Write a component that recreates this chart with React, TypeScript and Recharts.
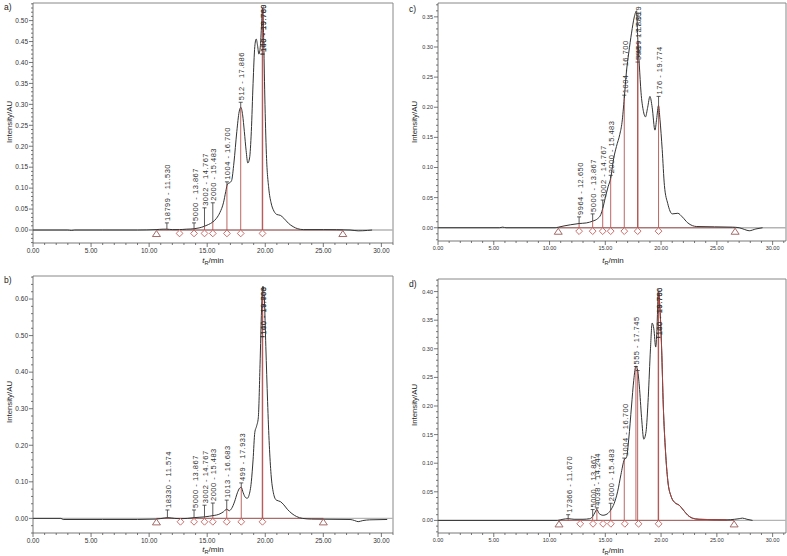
import React from 'react';
import {
  ComposedChart,
  Line,
  XAxis,
  YAxis,
  ReferenceLine,
  ReferenceDot,
} from 'recharts';

type Pt = [number, number];
// time, top of the red line, value where the label starts, label text
type Marker = [number, number, number, string];

// ---- a) ----
const traceA: Pt[] = [
  [0, 0], [3.0, 0], [3.3, -0.001], [3.6, 0], [6, 0], [9, 0], [10.6, 0.001], [11.2, 0.002],
  [11.5, 0.002], [12.0, 0.001], [12.6, 0.001], [13.2, 0.002], [13.87, 0.003], [14.3, 0.005],
  [14.77, 0.009], [15.1, 0.013], [15.48, 0.019], [15.8, 0.028], [16.1, 0.042], [16.4, 0.065],
  [16.6, 0.092], [16.75, 0.11], [16.95, 0.113], [17.1, 0.118], [17.3, 0.16], [17.55, 0.235],
  [17.75, 0.282], [17.9, 0.293], [18.05, 0.275], [18.2, 0.235], [18.35, 0.19], [18.5, 0.16],
  [18.65, 0.172], [18.8, 0.235], [18.95, 0.35], [19.1, 0.438], [19.22, 0.456], [19.34, 0.44],
  [19.45, 0.42], [19.58, 0.44], [19.7, 0.5], [19.78, 0.53], [19.86, 0.46], [19.96, 0.32],
  [20.1, 0.18], [20.3, 0.1], [20.5, 0.065], [20.75, 0.045], [21.0, 0.037], [21.3, 0.035],
  [21.6, 0.028], [22.0, 0.016], [22.4, 0.008], [22.8, 0.003], [23.3, 0.001], [25.0, 0.001],
  [27.3, 0], [28.0, -0.002], [28.8, -0.001], [29.2, 0],
];
const markersA: Marker[] = [
  [11.53, 0.002, 0.017, '18799 - 11.530'],
  [13.867, 0.003, 0.017, '5000 - 13.867'],
  [14.767, 0.009, 0.053, '3002 - 14.767'],
  [15.483, 0.019, 0.065, '2000 - 15.483'],
  [16.7, 0.108, 0.115, '1004 - 16.700'],
  [17.886, 0.293, 0.305, '512 - 17.886'],
  [19.74, 0.53, 0.42, '140 - 19.760'],
  [19.78, 0.53, 0.42, '100 - 19.789'],
];
const diamondsA = [12.62, 13.867, 14.767, 15.483, 16.7, 17.886, 19.76];
const trianglesA = [10.63, 26.68];

// ---- b) ----
const traceB: Pt[] = [
  [0, 0], [2.4, 0], [2.6, -0.003], [6, -0.003], [9, -0.003], [10.6, -0.002], [11.3, 0.001],
  [11.6, 0.002], [12.2, 0], [12.7, -0.001], [13.3, 0], [13.87, 0.002], [14.3, 0.003],
  [14.77, 0.004], [15.2, 0.006], [15.6, 0.008], [16.0, 0.011], [16.4, 0.018], [16.68, 0.025],
  [16.9, 0.021], [17.1, 0.027], [17.35, 0.045], [17.6, 0.07], [17.8, 0.083], [17.93, 0.085],
  [18.1, 0.07], [18.3, 0.057], [18.45, 0.055], [18.6, 0.063], [18.8, 0.1], [18.95, 0.16],
  [19.1, 0.235], [19.25, 0.252], [19.4, 0.275], [19.55, 0.42], [19.68, 0.57], [19.8, 0.635],
  [19.92, 0.6], [20.05, 0.47], [20.2, 0.32], [20.35, 0.2], [20.5, 0.12], [20.7, 0.07],
  [20.95, 0.05], [21.3, 0.046], [21.6, 0.037], [21.9, 0.025], [22.3, 0.013], [22.7, 0.005],
  [23.2, 0], [24, -0.002], [27.3, -0.003], [27.7, -0.006], [28.0, -0.009], [28.4, -0.006],
  [29, -0.004], [30.5, -0.003],
];
const markersB: Marker[] = [
  [11.574, 0.002, 0.023, '18330 - 11.574'],
  [13.867, 0.002, 0.023, '5000 - 13.867'],
  [14.767, 0.004, 0.036, '3002 - 14.767'],
  [15.483, 0.007, 0.042, '2000 - 15.483'],
  [16.683, 0.025, 0.05, '1013 - 16.683'],
  [17.933, 0.085, 0.097, '499 - 17.933'],
  [19.74, 0.62, 0.497, '140 - 19.760'],
  [19.78, 0.62, 0.497, '100 - 19.803'],
];
const diamondsB = [12.7, 13.867, 14.767, 15.483, 16.683, 17.933, 19.76];
const trianglesB = [10.63, 25.0];

// ---- c) ----
const traceC: Pt[] = [
  [0, 0], [5.5, 0], [5.8, 0.001], [6.1, 0], [10.5, 0], [10.8, 0.001], [11.3, 0.003],
  [11.9, 0.005], [12.65, 0.007], [13.3, 0.008], [13.87, 0.011], [14.3, 0.015], [14.6, 0.022],
  [14.77, 0.032], [15.0, 0.05], [15.25, 0.068], [15.48, 0.082], [15.75, 0.115], [16.0, 0.135],
  [16.3, 0.155], [16.5, 0.175], [16.7, 0.215], [16.9, 0.26], [17.1, 0.29], [17.35, 0.323],
  [17.6, 0.35], [17.8, 0.36], [17.92, 0.31], [18.05, 0.27], [18.2, 0.225], [18.4, 0.195],
  [18.6, 0.184], [18.8, 0.2], [19.0, 0.218], [19.2, 0.2], [19.45, 0.162], [19.6, 0.18],
  [19.77, 0.203], [19.9, 0.18], [20.1, 0.13], [20.3, 0.07], [20.6, 0.04], [21.0, 0.023],
  [21.5, 0.024], [21.9, 0.018], [22.4, 0.008], [23.2, 0.002], [26.4, 0.001], [27.0, 0],
  [27.5, -0.003], [27.9, -0.005], [28.5, -0.002], [29.1, 0],
];
const markersC: Marker[] = [
  [12.65, 0.007, 0.018, '9964 - 12.650'],
  [13.867, 0.011, 0.023, '5000 - 13.867'],
  [14.767, 0.032, 0.046, '3002 - 14.767'],
  [15.483, 0.082, 0.087, '2000 - 15.483'],
  [16.7, 0.215, 0.22, '1004 - 16.700'],
  [17.89, 0.31, 0.275, '598 - 17.889'],
  [17.93, 0.31, 0.285, '499 - 17.919'],
  [19.774, 0.203, 0.218, '176 - 19.774'],
];
const diamondsC = [12.65, 13.867, 14.767, 15.483, 16.7, 17.9, 19.774];
const trianglesC = [10.78, 26.64];

// ---- d) ----
const traceD: Pt[] = [
  [0, 0], [10.7, 0], [11.2, 0.002], [11.67, 0.003], [12.2, 0.002], [13.0, 0.002], [13.6, 0.003],
  [13.87, 0.007], [14.05, 0.013], [14.24, 0.019], [14.45, 0.012], [14.8, 0.009], [15.15, 0.011],
  [15.48, 0.018], [15.8, 0.03], [16.1, 0.05], [16.4, 0.08], [16.7, 0.106], [16.9, 0.11],
  [17.1, 0.142], [17.35, 0.2], [17.55, 0.245], [17.745, 0.27], [17.9, 0.262], [18.05, 0.235],
  [18.25, 0.18], [18.45, 0.142], [18.65, 0.155], [18.85, 0.215], [19.05, 0.3], [19.2, 0.345],
  [19.35, 0.335], [19.52, 0.303], [19.62, 0.33], [19.76, 0.4], [19.9, 0.37], [20.05, 0.3],
  [20.2, 0.2], [20.4, 0.12], [20.6, 0.07], [20.9, 0.042], [21.3, 0.03], [21.6, 0.027],
  [22.0, 0.018], [22.4, 0.009], [22.8, 0.004], [23.4, 0.002], [25.9, 0.001], [26.6, 0.002],
  [27.0, 0.003], [27.3, 0.004], [27.7, 0.002], [28.2, 0],
];
const markersD: Marker[] = [
  [11.67, 0.003, 0.01, '17366 - 11.670'],
  [13.867, 0.007, 0.019, '5000 - 13.867'],
  [14.244, 0.019, 0.022, '4038 - 14.244'],
  [15.483, 0.018, 0.03, '2000 - 15.483'],
  [16.7, 0.106, 0.109, '1004 - 16.700'],
  [17.745, 0.27, 0.269, '555 - 17.745'],
  [17.9, 0.262, 0.262, ''],
  [19.74, 0.4, 0.32, '140 - 19.760'],
  [19.78, 0.4, 0.32, '100 - 19.796'],
];
const diamondsD = [12.75, 13.9, 14.8, 15.5, 16.75, 17.98, 19.78];
const trianglesD = [10.85, 26.55];
const redTailD: [number, number] = [19.76, 25.9];

const yLabelsA = [0, 0.05, 0.1, 0.15, 0.2, 0.25, 0.3, 0.35, 0.4, 0.45, 0.5];
const yLabelsB = [0, 0.1, 0.2, 0.3, 0.4, 0.5, 0.6];
const yLabelsC = [0, 0.05, 0.1, 0.15, 0.2, 0.25, 0.3, 0.35];
const yLabelsD = [0, 0.05, 0.1, 0.15, 0.2, 0.25, 0.3, 0.35, 0.4];
const xLabels = [0, 5, 10, 15, 20, 25, 30];

const FONT = '"Liberation Sans", Arial, sans-serif';
const INK = '#333';
const RED = '#a8403c';
const MARK = '#c4605c';

const minorTicks = (lo: number, hi: number, step: number) => {
  const out: number[] = [];
  for (let i = Math.ceil(lo / step - 1e-9); i * step <= hi + 1e-9; i++) {
    out.push(Math.round(i * step * 1000) / 1000);
  }
  return out;
};

interface PanelProps {
  left: number;
  top: number;
  width: number;
  height: number;
  marginTop: number;
  marginRight: number;
  yAxisWidth: number;
  xAxisHeight: number;
  xMax: number;
  yDomain: [number, number];
  yLabels: number[];
  yMinor: number;
  fontSize: number;
  trace: Pt[];
  markers: Marker[];
  diamonds: number[];
  triangles: number[];
  redTail?: [number, number];
}

function Panel(p: PanelProps) {
  const data = p.trace.map(([t, v]) => ({ t, v }));
  const tail = p.redTail ? data.filter((d) => d.t >= p.redTail![0] && d.t <= p.redTail![1]) : null;
  const yTicks = minorTicks(p.yDomain[0], p.yDomain[1], p.yMinor);
  const xTicks = minorTicks(0, p.xMax, 1);
  const isMajorY = (v: number) => p.yLabels.some((m) => Math.abs(m - v) < 1e-6);

  const yTick = (props: any) => {
    const { x, y, payload } = props;
    const major = isMajorY(payload.value);
    return (
      <g>
        <line x1={x} x2={x - (major ? 4 : 2)} y1={y} y2={y} stroke="#555" strokeWidth={0.8} />
        {major && (
          <text x={x - 5} y={y} dy="0.35em" textAnchor="end" fontSize={p.fontSize} fill={INK} fontFamily={FONT}>
            {payload.value.toFixed(2)}
          </text>
        )}
      </g>
    );
  };

  const xTick = (props: any) => {
    const { x, y, payload } = props;
    const major = xLabels.includes(payload.value);
    return (
      <g>
        <line x1={x} x2={x} y1={y} y2={y + (major ? 4 : 2)} stroke="#555" strokeWidth={0.8} />
        {major && (
          <text x={x} y={y + 5} dy="0.8em" textAnchor="middle" fontSize={p.fontSize} fill={INK} fontFamily={FONT}>
            {payload.value.toFixed(2)}
          </text>
        )}
      </g>
    );
  };

  return (
    <div style={{ position: 'absolute', left: p.left, top: p.top }}>
      <ComposedChart
        width={p.width}
        height={p.height}
        margin={{ top: p.marginTop, right: p.marginRight, left: 0, bottom: 0 }}
      >
        <XAxis
          type="number"
          dataKey="t"
          domain={[0, p.xMax]}
          allowDataOverflow
          ticks={xTicks}
          interval={0}
          tick={xTick}
          tickLine={false}
          tickSize={0}
          tickMargin={0}
          height={p.xAxisHeight}
          axisLine={{ stroke: '#555', strokeWidth: 0.8 }}
        />
        <YAxis
          type="number"
          domain={p.yDomain}
          allowDataOverflow
          ticks={yTicks}
          interval={0}
          tick={yTick}
          tickLine={false}
          tickSize={0}
          tickMargin={0}
          width={p.yAxisWidth}
          axisLine={{ stroke: '#555', strokeWidth: 0.8 }}
        />
        <ReferenceLine y={p.yDomain[1]} stroke="#888" ifOverflow="visible" />
        <ReferenceLine x={p.xMax} stroke="#888" ifOverflow="visible" />
        <ReferenceLine y={0} stroke="#b4b4b4" strokeWidth={1.4} />
        <ReferenceLine
          segment={[{ x: p.triangles[0], y: 0 }, { x: p.triangles[1], y: 0 }]}
          stroke={RED}
          strokeWidth={0.7}
        />
        <Line
          data={data}
          dataKey="v"
          type="monotone"
          stroke={INK}
          strokeWidth={1}
          dot={false}
          isAnimationActive={false}
        />
        {tail && (
          <Line
            data={tail}
            dataKey="v"
            type="monotone"
            stroke={RED}
            strokeWidth={1}
            dot={false}
            isAnimationActive={false}
          />
        )}
        {p.markers.map(([t, topV], i) => (
          <ReferenceLine
            key={`ml${i}`}
            segment={[{ x: t, y: 0 }, { x: t, y: topV }]}
            stroke={RED}
            strokeWidth={0.8}
            ifOverflow="visible"
          />
        ))}
        {p.markers
          .filter(([, topV, at]) => at > topV)
          .map(([t, topV, at], i) => (
            <ReferenceLine
              key={`mc${i}`}
              segment={[{ x: t, y: topV }, { x: t, y: at }]}
              stroke={INK}
              strokeWidth={0.8}
              ifOverflow="visible"
            />
          ))}
        {p.markers.map(([t, , at, text], i) => (
          <ReferenceDot
            key={`mt${i}`}
            x={t}
            y={at}
            ifOverflow="visible"
            shape={(s: any) => (
              <g>
                <line x1={s.cx - 2} x2={s.cx + 2} y1={s.cy} y2={s.cy} stroke={INK} strokeWidth={0.8} />
                <text
                  transform={`translate(${s.cx + 3.5},${s.cy - 2}) rotate(-90)`}
                  fontSize={7.5}
                  letterSpacing={0.5}
                  fill={INK}
                  fontFamily={FONT}
                >
                  {text}
                </text>
              </g>
            )}
          />
        ))}
        {p.diamonds.map((t, i) => (
          <ReferenceDot
            key={`d${i}`}
            x={t}
            y={0}
            ifOverflow="visible"
            shape={(s: any) => (
              <path
                d={`M${s.cx},${s.cy} L${s.cx + 3.4},${s.cy + 3.4} L${s.cx},${s.cy + 6.8} L${s.cx - 3.4},${s.cy + 3.4} Z`}
                fill="#fff"
                stroke={MARK}
                strokeWidth={0.9}
              />
            )}
          />
        ))}
        {p.triangles.map((t, i) => (
          <ReferenceDot
            key={`t${i}`}
            x={t}
            y={0}
            ifOverflow="visible"
            shape={(s: any) => (
              <path
                d={`M${s.cx},${s.cy + 0.5} L${s.cx + 4},${s.cy + 6.5} L${s.cx - 4},${s.cy + 6.5} Z`}
                fill="none"
                stroke="#9a5a58"
                strokeWidth={0.9}
              />
            )}
          />
        ))}
      </ComposedChart>
    </div>
  );
}

function AxisTitles({ ox, yTitleY, xTitleX, xTitleY, letter, letterY }: any) {
  return (
    <g fontFamily={FONT} fill="#222">
      <text x={ox + 4} y={letterY} fontSize={8.5}>
        {letter}
      </text>
      <text
        transform={`translate(${ox + 12},${yTitleY}) rotate(-90)`}
        fontSize={7.8}
        textAnchor="middle"
      >
        Intensity/AU
      </text>
      <text x={xTitleX} y={xTitleY} fontSize={8} textAnchor="middle">
        <tspan fontStyle="italic">t</tspan>
        <tspan fontSize={5.5} dy={2}>R</tspan>
        <tspan dy={-2}>/min</tspan>
      </text>
    </g>
  );
}

export default function App() {
  return (
    <div style={{ position: 'absolute', left: 0, top: 0, width: 787, height: 556, background: '#fff' }}>
      <Panel
        left={0}
        top={0}
        width={395}
        height={270}
        marginTop={3}
        marginRight={2}
        yAxisWidth={33}
        xAxisHeight={27}
        xMax={31}
        yDomain={[-0.031, 0.542]}
        yLabels={yLabelsA}
        yMinor={0.01}
        fontSize={6.5}
        trace={traceA}
        markers={markersA}
        diamonds={diamondsA}
        triangles={trianglesA}
      />
      <Panel
        left={0}
        top={270}
        width={395}
        height={286}
        marginTop={6}
        marginRight={2}
        yAxisWidth={33}
        xAxisHeight={23}
        xMax={31}
        yDomain={[-0.04, 0.663]}
        yLabels={yLabelsB}
        yMinor={0.02}
        fontSize={6.5}
        trace={traceB}
        markers={markersB}
        diamonds={diamondsB}
        triangles={trianglesB}
      />
      <Panel
        left={400}
        top={0}
        width={387}
        height={270}
        marginTop={3}
        marginRight={1}
        yAxisWidth={38}
        xAxisHeight={29}
        xMax={31.2}
        yDomain={[-0.022, 0.373]}
        yLabels={yLabelsC}
        yMinor={0.01}
        fontSize={5.5}
        trace={traceC}
        markers={markersC}
        diamonds={diamondsC}
        triangles={trianglesC}
      />
      <Panel
        left={400}
        top={270}
        width={387}
        height={286}
        marginTop={9}
        marginRight={1}
        yAxisWidth={38}
        xAxisHeight={23}
        xMax={31.2}
        yDomain={[-0.022, 0.422]}
        yLabels={yLabelsD}
        yMinor={0.01}
        fontSize={5.5}
        trace={traceD}
        markers={markersD}
        diamonds={diamondsD}
        triangles={trianglesD}
        redTail={redTailD}
      />
      <svg
        width={787}
        height={556}
        style={{ position: 'absolute', left: 0, top: 0, pointerEvents: 'none' }}
      >
        <AxisTitles ox={0} letter="a)" letterY={10} yTitleY={122} xTitleX={213} xTitleY={263} />
        <AxisTitles ox={0} letter="b)" letterY={283} yTitleY={402} xTitleX={213} xTitleY={552} />
        <AxisTitles ox={405} letter="c)" letterY={12} yTitleY={122} xTitleX={613} xTitleY={263} />
        <AxisTitles ox={405} letter="d)" letterY={287} yTitleY={405} xTitleX={613} xTitleY={553} />
      </svg>
    </div>
  );
}
